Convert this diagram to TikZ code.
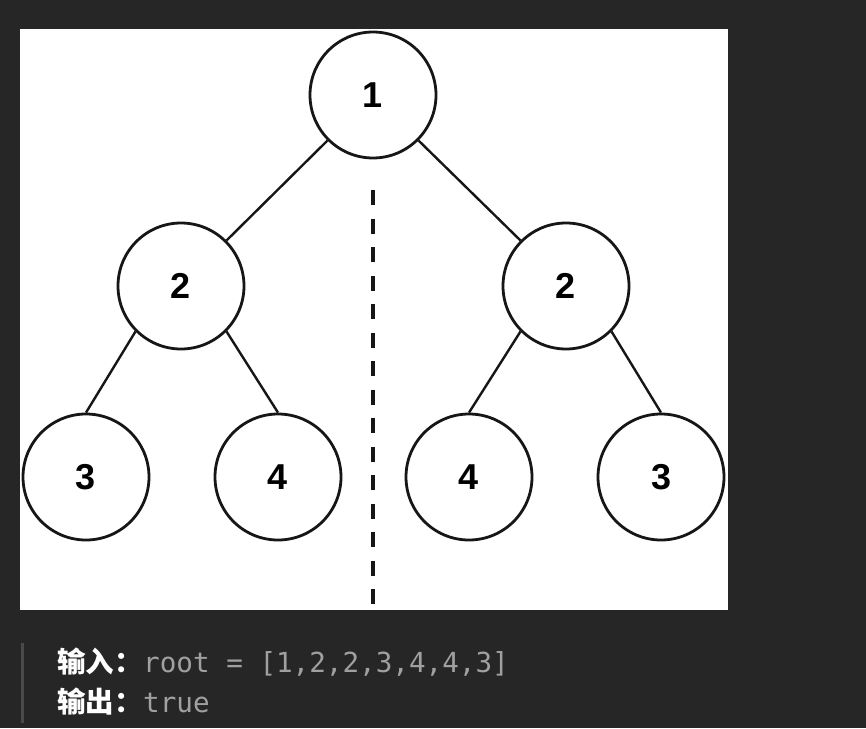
\documentclass[tikz,border=0pt]{standalone}
\usepackage{fontspec}
\usepackage{tikz}
\setmainfont{Liberation Sans}
\setmonofont{DejaVu Sans Mono}
\newfontfamily\cjkfont{Noto Sans CJK SC}
\definecolor{pagebg}{HTML}{262626}
\definecolor{barcol}{HTML}{4A4A4A}
\definecolor{valcol}{HTML}{A0A0A0}
\definecolor{inkcol}{HTML}{161616}

\begin{document}
\begin{tikzpicture}[x=1pt,y=-1pt,
		treenode/.style = {circle, draw=inkcol, line width=2.8pt, fill=white, minimum size=126pt, inner sep=0pt, font=\fontsize{36}{36}\selectfont\bfseries},
		branch/.style = {draw=inkcol, line width=2.4pt},
		keytext/.style = {anchor=base west, inner sep=0pt, text=white, font=\cjkfont\fontsize{28.5}{28.5}\selectfont\bfseries},
		valtext/.style = {anchor=base west, inner sep=0pt, text=valcol, font=\ttfamily\fontsize{27.6}{27.6}\selectfont}]
				\fill[pagebg] (0,0) rectangle (866,728);
				\useasboundingbox (0,0) rectangle (866,728);
				\fill[white] (20,29) rectangle (728,610);
				\node[treenode] (n1) at (373,95) {1};
				\node[treenode] (n2l) at (181,286) {2};
				\node[treenode] (n2r) at (566,286) {2};
				\node[treenode] (n3l) at (86,477) {3};
				\node[treenode] (n4l) at (278,477) {4};
				\node[treenode] (n4r) at (469,477) {4};
				\node[treenode] (n3r) at (661,477) {3};
				\draw[branch] (n1.south west) -- (n2l.north east);
				\draw[branch] (n1.south east) -- (n2r.north west);
				\draw[branch] (n2l.south west) -- (n3l.north);
				\draw[branch] (n2l.south east) -- (n4l.north);
				\draw[branch] (n2r.south west) -- (n4r.north);
				\draw[branch] (n2r.south east) -- (n3r.north);
				\coordinate (axistop) at (373,190);
				\coordinate (axisbot) at (373,606);
				\draw[inkcol, line width=3.5pt, dash pattern=on 15pt off 13.5pt] (axistop) -- (axisbot);
				\fill[barcol] (21,643) rectangle (24,723);
				\node[keytext] (inkey) at (57,672) {输入：};
				\node[valtext] (inval) at (143,672) {root = [1,2,2,3,4,4,3]};
				\node[keytext] (outkey) at (57,712) {输出：};
				\node[valtext] (outval) at (143,712) {true};
			\end{tikzpicture}
\end{document}
